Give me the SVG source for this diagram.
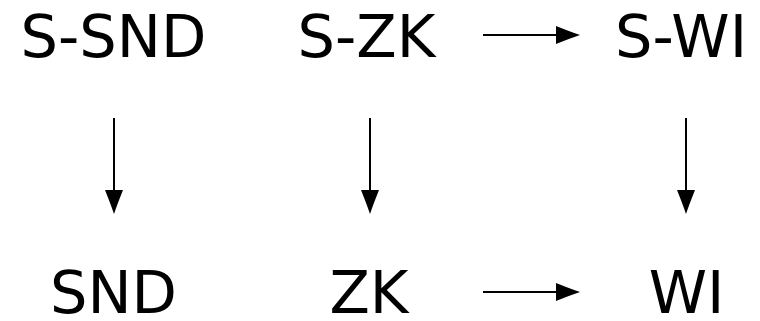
<svg xmlns="http://www.w3.org/2000/svg" width="760" height="321" viewBox="0 0 760 321">
<style>
text{font-family:"DejaVu Sans",sans-serif;font-size:59px;fill:#000;text-anchor:middle}
.e{stroke:#000;stroke-width:2;fill:none}
.h{fill:#000;stroke:none}
</style>
<defs>
<path id="ah" d="M0,0 Q-9,-3 -24,-9 L-24,9 Q-9,3 0,0 Z"/>
</defs>
<rect width="760" height="321" fill="#fff"/>
<g id="n-ssnd"><text x="113.5" y="57">S-SND</text></g>
<g id="n-szk"><text x="366.5" y="57">S-ZK</text></g>
<g id="n-swi"><text x="681" y="57">S-WI</text></g>
<g id="n-snd"><text x="113.5" y="313">SND</text></g>
<g id="n-zk"><text x="369" y="313">ZK</text></g>
<g id="n-wi"><text x="686.5" y="313">WI</text></g>
<g id="edges">
<line class="e" x1="483" y1="35" x2="558" y2="35"/>
<use href="#ah" class="h" transform="translate(580,35)"/>
<line class="e" x1="483" y1="292" x2="558" y2="292"/>
<use href="#ah" class="h" transform="translate(580,292)"/>
<line class="e" x1="114" y1="118" x2="114" y2="192"/>
<use href="#ah" class="h" transform="translate(114,214) rotate(90)"/>
<line class="e" x1="370" y1="118" x2="370" y2="192"/>
<use href="#ah" class="h" transform="translate(370,214) rotate(90)"/>
<line class="e" x1="686" y1="118" x2="686" y2="192"/>
<use href="#ah" class="h" transform="translate(686,214) rotate(90)"/>
</g>
</svg>
